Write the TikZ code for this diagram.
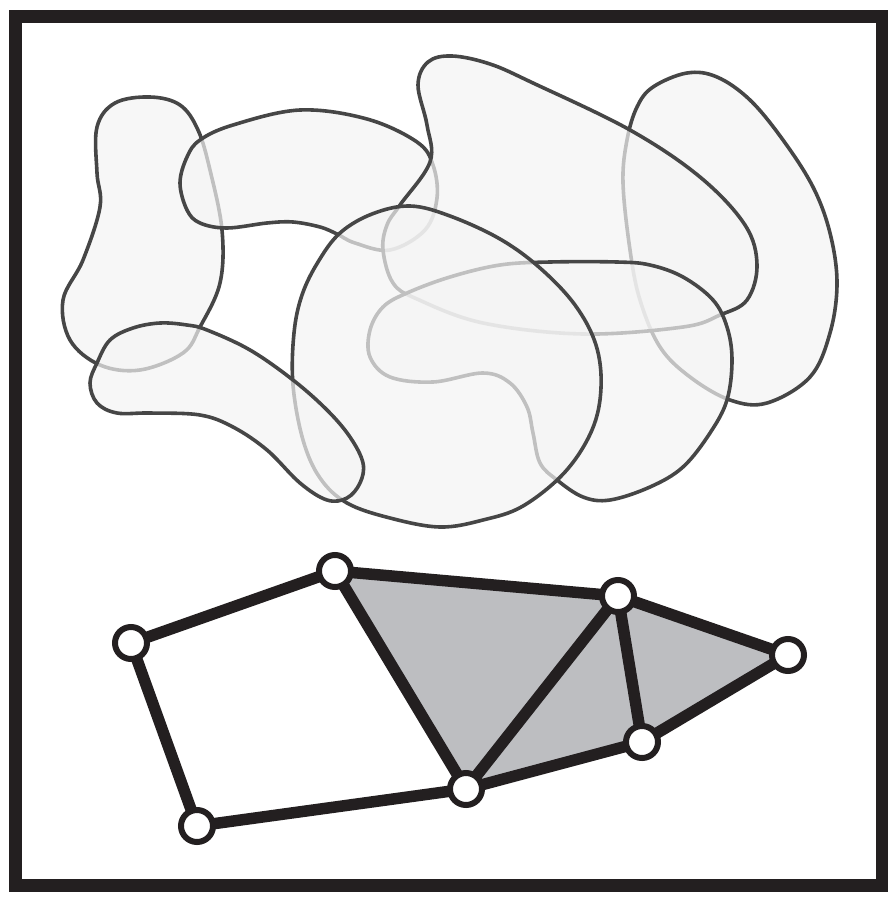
\documentclass[tikz,border=0pt]{standalone}
\usetikzlibrary{backgrounds}
\definecolor{framecol}{RGB}{35,31,32}
\definecolor{blobline}{RGB}{70,70,70}
\definecolor{blobfill}{RGB}{244,244,244}
\definecolor{trifill}{RGB}{189,190,193}
\tikzset{
  blob/.style={draw=blobline, line width=3.6pt, fill=blobfill, fill opacity=0.7, draw opacity=1},
  vtx/.style={circle, draw=framecol, line width=6pt, fill=white, minimum size=32pt, inner sep=0pt},
  gedge/.style={draw=framecol, line width=11.5pt},
  tri/.style={fill=trifill},
  framebox/.style={draw=framecol, line width=13pt}
}
\begin{document}
\begin{tikzpicture}[x=1pt,y=-1pt]
\useasboundingbox (0,0) rectangle (888,897);
\draw[framebox] (15.5,16) rectangle (882.5,885.5);
% L1 left vertical blob
\draw[blob] plot[smooth cycle, tension=0.6] coordinates {
 (150,97) (180,105) (198,130) (210,170) (222,230) (220,283) (200,327) (183,353)
 (140,370) (100,365) (70,340) (63,300) (83,260) (100,207) (97,173) (97,127) (115,103)};
% S2 top sausage
\draw[blob] plot[smooth cycle, tension=0.6] coordinates {
 (200,140) (233,125) (300,110) (367,119) (417,142) (433,165) (437,198) (425,230)
 (390,250) (355,243) (337,234) (320,227) (293,222) (267,223) (227,228) (200,223)
 (187,210) (180,183) (187,157)};
% R4 right tall blob
\draw[blob] plot[smooth cycle, tension=0.6] coordinates {
 (687,73) (717,77) (750,100) (783,140) (813,187) (830,233) (837,283) (830,333)
 (810,377) (767,403) (730,400) (690,377) (660,347) (640,300) (630,250) (623,183)
 (627,140) (637,107) (653,87)};
% T3 big top shape
\draw[blob] plot[smooth cycle, tension=0.6] coordinates {
 (400,205) (430,162) (427,125) (418,85) (428,62) (452,56) (490,64) (533,83)
 (630,130) (700,177) (745,225) (757,265) (747,300) (720,315) (683,327)
 (583,334) (483,323) (417,299) (393,283) (383,250) (387,225)};
% M7 middle-right wavy shape
\draw[blob] plot[smooth cycle, tension=0.6] coordinates {
 (407,293) (450,277) (500,265) (550,262) (617,262) (650,265) (683,277) (713,300)
 (727,327) (732,360) (727,400) (710,433) (683,467) (650,487) (610,500) (583,497)
 (557,480) (540,463) (533,433) (527,407) (510,383) (483,373) (433,382) (390,377)
 (370,357) (370,330) (383,307)};
% C5 big circle
\draw[blob] plot[smooth cycle, tension=0.6] coordinates {
 (410,206) (450,216) (500,239) (540,268) (575,305) (596,345) (601,388) (592,430)
 (565,472) (523,506) (483,520) (440,527) (390,518) (347,503) (320,478) (303,440)
 (293,385) (294,333) (302,295) (318,262) (340,233) (372,214)};
% S6 bottom sausage
\draw[blob] plot[smooth cycle, tension=0.6] coordinates {
 (97,363) (110,340) (133,328) (160,323) (187,325) (207,330) (250,350) (293,380)
 (327,410) (350,437) (363,463) (360,483) (347,498) (327,500) (300,483) (267,450)
 (233,427) (200,415) (150,413) (117,413) (97,403) (90,383)};
% graph
\node[vtx] (A) at (131,643) {};
\node[vtx] (B) at (335,571) {};
\node[vtx] (C) at (618,596) {};
\node[vtx] (D) at (788,655) {};
\node[vtx] (E) at (642,742) {};
\node[vtx] (F) at (466,789) {};
\node[vtx] (G) at (197,826) {};
\begin{scope}[on background layer]
\fill[tri] (B.center) -- (C.center) -- (F.center) -- cycle;
\fill[tri] (C.center) -- (E.center) -- (F.center) -- cycle;
\fill[tri] (C.center) -- (D.center) -- (E.center) -- cycle;
\draw[gedge] (A.center) -- (B.center);
\draw[gedge] (B.center) -- (C.center);
\draw[gedge] (C.center) -- (D.center);
\draw[gedge] (D.center) -- (E.center);
\draw[gedge] (E.center) -- (C.center);
\draw[gedge] (C.center) -- (F.center);
\draw[gedge] (F.center) -- (B.center);
\draw[gedge] (F.center) -- (E.center);
\draw[gedge] (F.center) -- (G.center);
\draw[gedge] (G.center) -- (A.center);
\end{scope}
\end{tikzpicture}
\end{document}
